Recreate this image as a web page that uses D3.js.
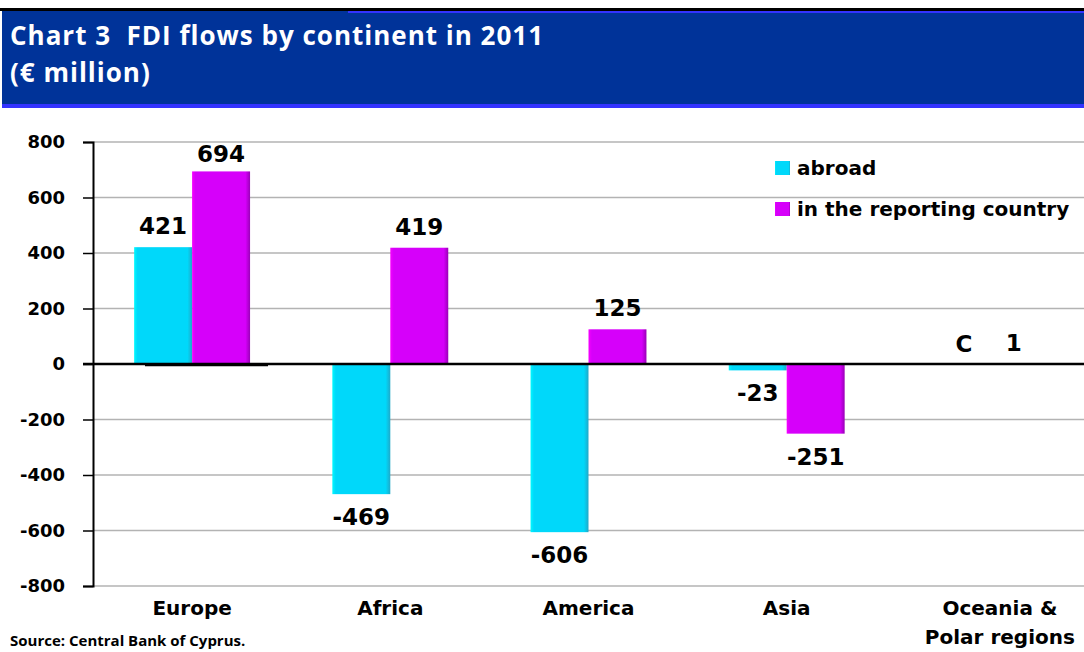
<!DOCTYPE html>
<html>
<head>
<meta charset="utf-8">
<script src="https://cdn.jsdelivr.net/npm/d3@7"></script>
<style>
  html, body { margin: 0; padding: 0; background: #fff; }
  svg { display: block; }
  text { font-family: "DejaVu Sans", Verdana, sans-serif; font-weight: bold; }
  .head { font-family: "Open Sans", Lato, sans-serif; }
</style>
</head>
<body>
<svg id="chart" width="1084" height="652"></svg>
<script>
// FDI flows by continent, 2011 (EUR million)
const categories = ["Europe", "Africa", "America", "Asia", "Oceania & Polar regions"];
const categoryLines = [["Europe"], ["Africa"], ["America"], ["Asia"], ["Oceania &", "Polar regions"]];
const seriesNames = ["abroad", "in the reporting country"];
const abroad = [421, -469, -606, -23, 0];
const reporting = [694, 419, 125, -251, 1];
const abroadLabels = ["421", "-469", "-606", "-23", "C"];
const reportingLabels = ["694", "419", "125", "-251", "1"];
const yTicks = [800, 600, 400, 200, 0, -200, -400, -600, -800];

const svg = d3.select("#chart");
const colors = { abroad: "#00d8fa", reporting: "#d600fa" };

// gradients giving the bars a soft bevelled look
const defs = svg.append("defs");
function bevel(id, base, dark) {
  const g = defs.append("linearGradient").attr("id", id).attr("x1", 0).attr("x2", 1).attr("y1", 0).attr("y2", 0);
  g.append("stop").attr("offset", "0%").attr("stop-color", d3.color(base).brighter(0.4));
  g.append("stop").attr("offset", "6%").attr("stop-color", base);
  g.append("stop").attr("offset", "92%").attr("stop-color", base);
  g.append("stop").attr("offset", "100%").attr("stop-color", dark);
}
bevel("gAbroad", colors.abroad, "#20a8c8");
bevel("gReporting", colors.reporting, "#9a00b8");

// header band
svg.append("rect").attr("x", 2).attr("y", 10).attr("width", 1082).attr("height", 96).attr("fill", "#003399");
svg.append("rect").attr("x", 0).attr("y", 8).attr("width", 1084).attr("height", 3).attr("fill", "#000");
svg.append("rect").attr("x", 348).attr("y", 11).attr("width", 736).attr("height", 2).attr("fill", "#3333ff");
svg.append("rect").attr("x", 2).attr("y", 104).attr("width", 1082).attr("height", 4).attr("fill", "#3333ff");
svg.append("text").attr("class", "head").attr("x", 10).attr("y", 45).attr("fill", "#fff")
  .style("font-size", "26px").style("letter-spacing", "1px")
  .text("Chart 3\u00a0\u00a0FDI flows by continent in 2011");
svg.append("text").attr("class", "head").attr("x", 10).attr("y", 82).attr("fill", "#fff")
  .style("font-size", "26px").style("letter-spacing", "1px")
  .text("(€ million)");

// plot area
const plotLeft = 93, plotRight = 1084, plotTop = 142, plotBottom = 586;
const y = d3.scaleLinear().domain([-800, 800]).range([plotBottom, plotTop]);
const x = d3.scaleBand().domain(categories).range([plotLeft, plotRight]).paddingInner(0).paddingOuter(0);
const inner = d3.scaleBand().domain(seriesNames).range([0, x.bandwidth()]).paddingInner(0).paddingOuter(0.71);

// gridlines
svg.append("g").selectAll("line").data(yTicks.filter(t => t !== 0)).join("line")
  .attr("x1", plotLeft).attr("x2", plotRight)
  .attr("y1", d => y(d)).attr("y2", d => y(d))
  .attr("stroke", "#b3b3b3").attr("stroke-width", 1.5);

// y axis
const yAxis = svg.append("g").attr("transform", `translate(${plotLeft},0)`)
  .call(d3.axisLeft(y).tickValues(yTicks).tickSize(10).tickPadding(18).tickFormat(d => String(d)));
yAxis.select(".domain").attr("stroke", "#000").attr("stroke-width", 2);
yAxis.selectAll(".tick line").attr("stroke", "#000").attr("stroke-width", 1.5);
yAxis.selectAll(".tick text").attr("fill", "#000").style("font-size", "18px")
  .style("font-family", "'DejaVu Sans', Verdana, sans-serif").style("font-weight", "bold");

// bars
const series = [
  { key: "abroad", values: abroad, labels: abroadLabels, fill: "url(#gAbroad)" },
  { key: "in the reporting country", values: reporting, labels: reportingLabels, fill: "url(#gReporting)" }
];
series.forEach(s => {
  const g = svg.append("g");
  g.selectAll("rect").data(categories.map((c, i) => ({ c, v: s.values[i] }))).join("rect")
    .attr("x", d => x(d.c) + inner(s.key))
    .attr("width", inner.bandwidth())
    .attr("y", d => y(Math.max(0, d.v)))
    .attr("height", d => Math.abs(y(d.v) - y(0)))
    .attr("fill", s.fill);
});

// zero line
svg.append("line").attr("x1", plotLeft - 10).attr("x2", plotRight).attr("y1", y(0)).attr("y2", y(0))
  .attr("stroke", "#000").attr("stroke-width", 2.5);
svg.append("line").attr("x1", 145).attr("x2", 268).attr("y1", y(0) + 1).attr("y2", y(0) + 1)
  .attr("stroke", "#000").attr("stroke-width", 2.5);

// value labels
series.forEach(s => {
  svg.append("g").selectAll("text").data(categories.map((c, i) => ({ c, v: s.values[i], t: s.labels[i] }))).join("text")
    .attr("x", d => x(d.c) + inner(s.key) + inner.bandwidth() / 2 + (d.v === 0 ? 8 : 0))
    .attr("y", d => d.v > 0 ? Math.max(y(d.v) - 13, 162) : (d.v === 0 ? y(0) - 12 : y(d.v) + 31))
    .attr("text-anchor", "middle")
    .style("font-size", "23px")
    .attr("fill", "#000")
    .text(d => d.t);
});

// category labels
const cat = svg.append("g").selectAll("text").data(categories).join("text")
  .attr("y", 615)
  .attr("text-anchor", "middle")
  .style("font-size", "20px")
  .attr("fill", "#000");
cat.each(function(d, i) {
  categoryLines[i].forEach((line, j) => {
    d3.select(this).append("tspan").attr("x", x(d) + x.bandwidth() / 2 + (i === 4 ? 15 : 0))
      .attr("dy", j === 0 ? 0 : 29).text(line);
  });
});

// legend
const legend = svg.append("g").attr("transform", "translate(775,161)");
[["abroad", "url(#gAbroad)"], ["in the reporting country", "url(#gReporting)"]].forEach(([name, fill], i) => {
  legend.append("rect").attr("x", 0).attr("y", i * 41).attr("width", 15).attr("height", 14).attr("fill", fill);
  legend.append("text").attr("x", 22).attr("y", i * 41 + 14).style("font-size", "20px").attr("fill", "#000").text(name);
});

// source note
svg.append("text").attr("class", "head").attr("x", 10).attr("y", 646).style("font-size", "15px").attr("fill", "#000")
  .text("Source: Central Bank of Cyprus.");
</script>
</body>
</html>
